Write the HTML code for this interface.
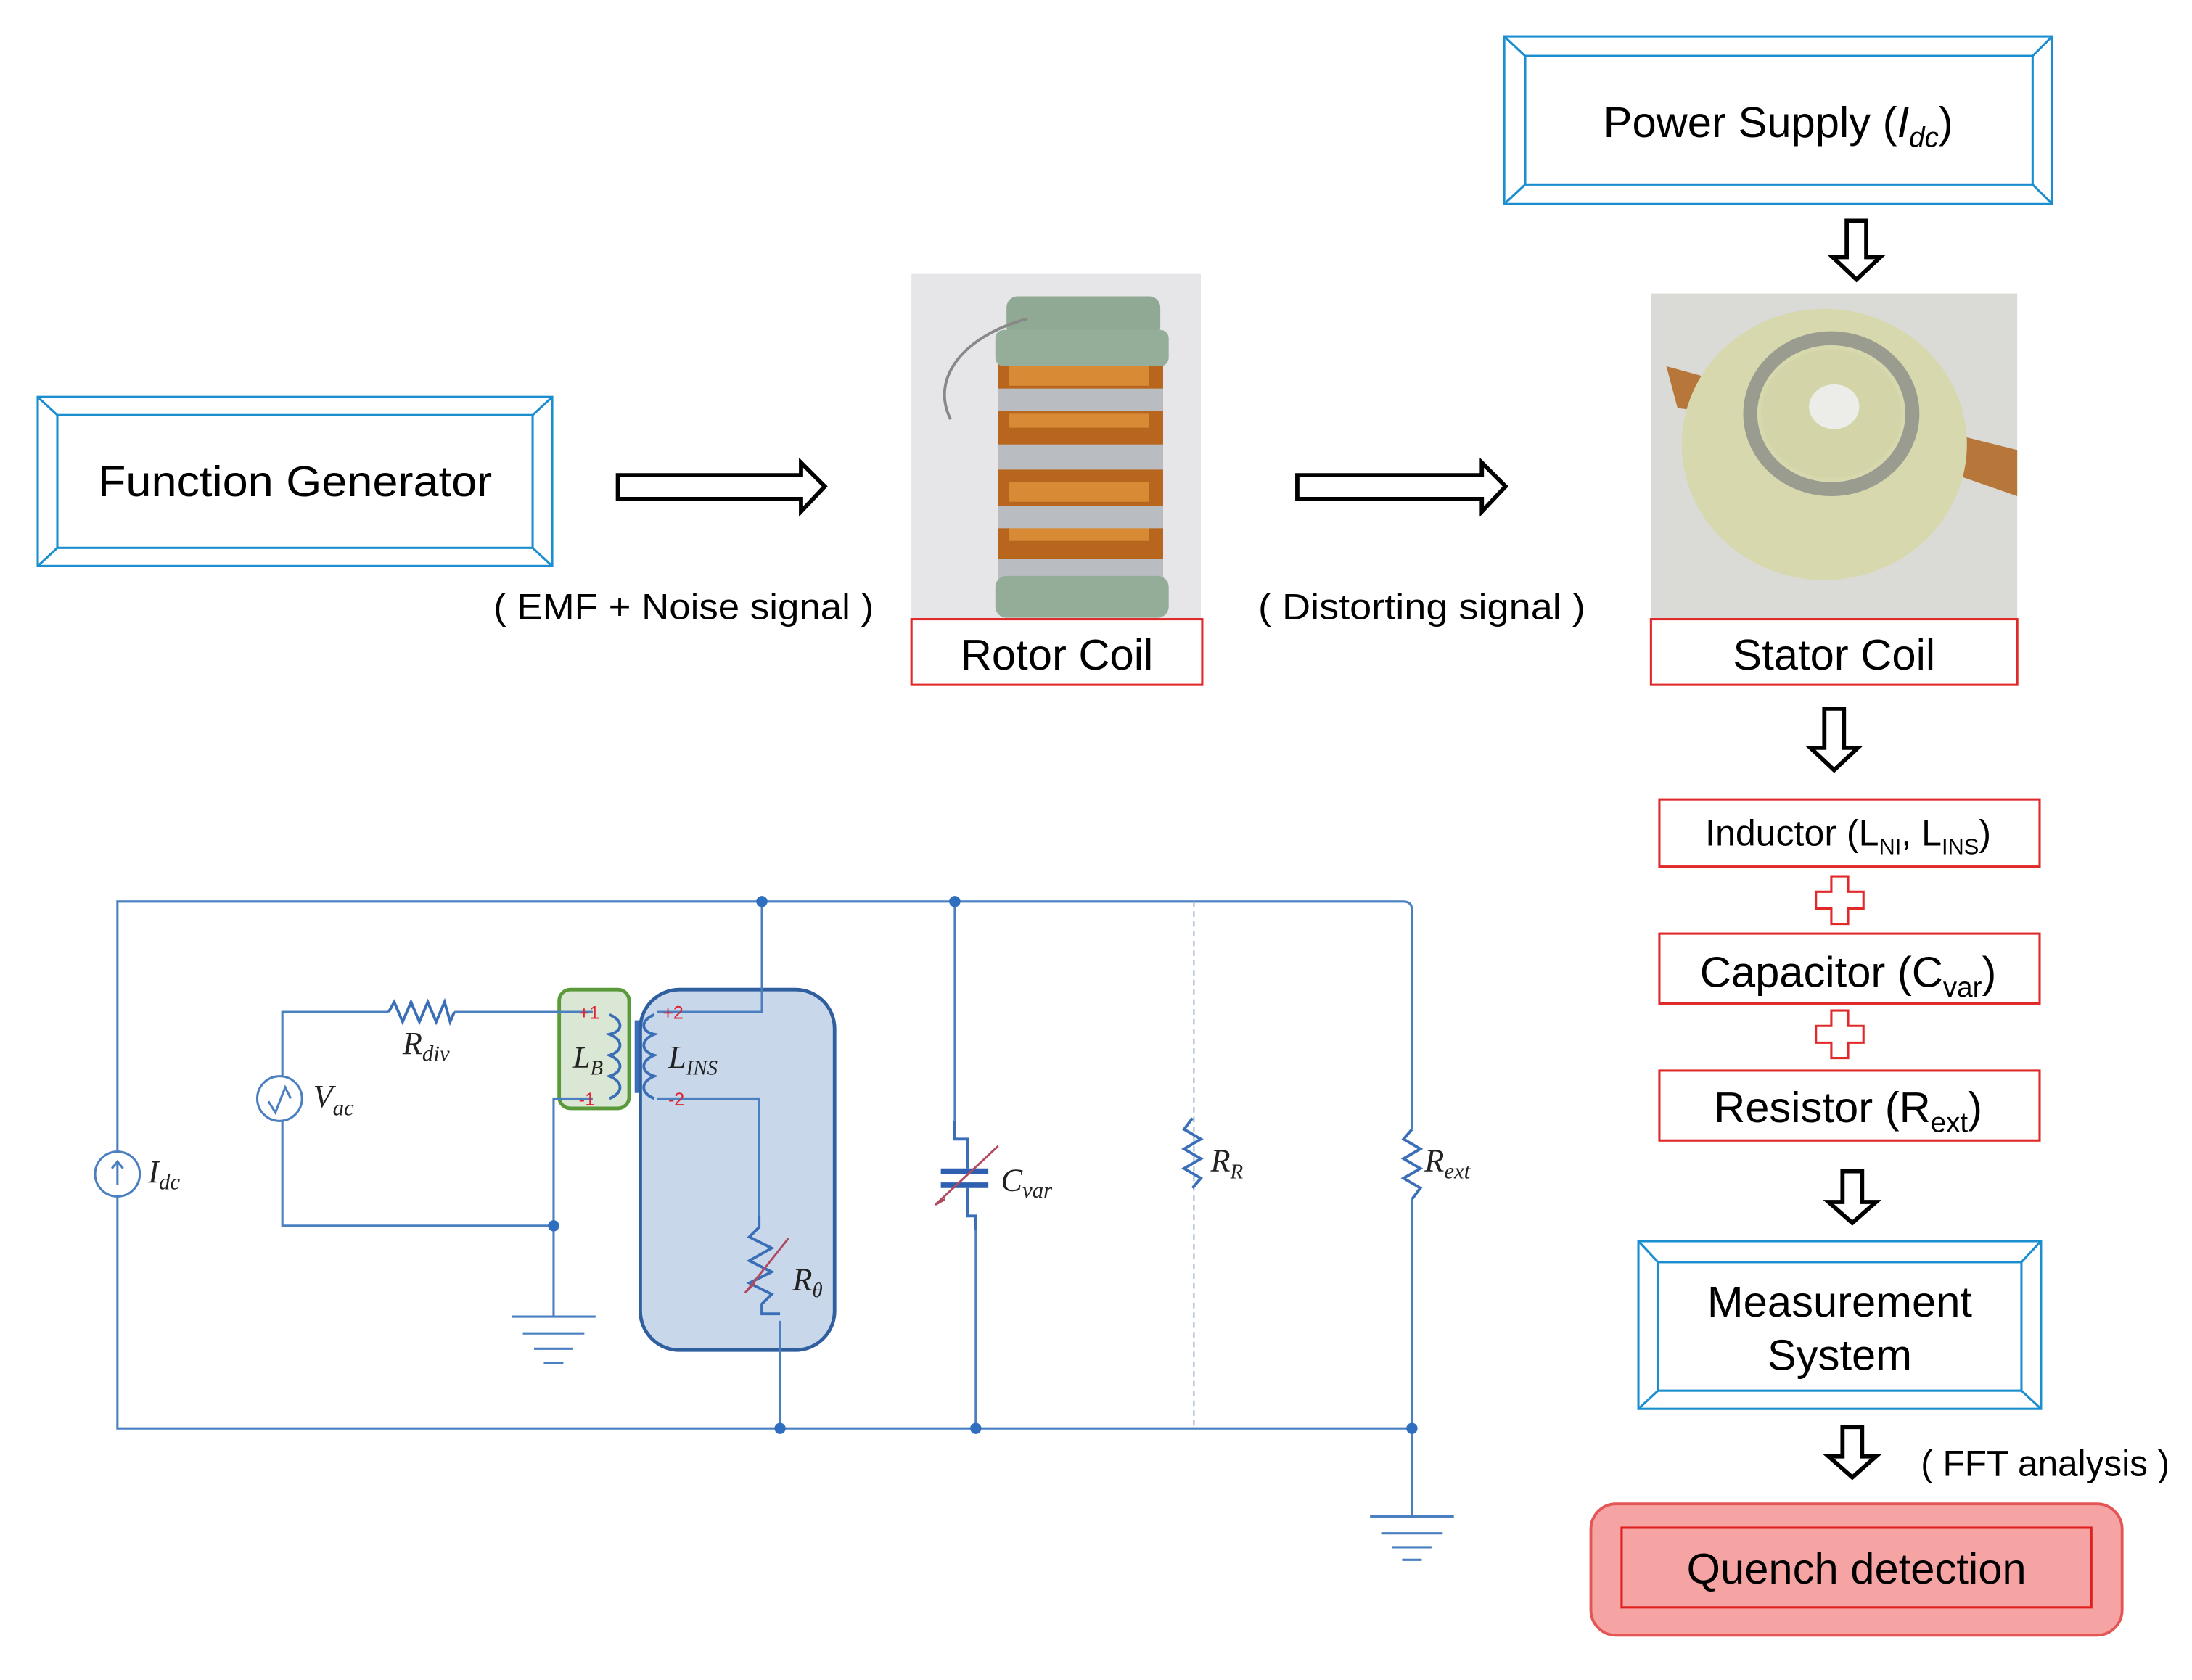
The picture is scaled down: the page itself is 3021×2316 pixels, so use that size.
<!DOCTYPE html>
<html><head><meta charset="utf-8">
<style>
html,body{margin:0;padding:0;background:#fff;}
svg{display:block;}
text{font-family:"Liberation Sans","Noto Sans CJK KR",sans-serif;fill:#000;}
.m{font-family:"Liberation Serif","DejaVu Serif",serif;font-style:italic;fill:#222;}
</style></head>
<body>
<svg width="3021" height="2316" viewBox="0 0 1568 1202" preserveAspectRatio="none" xmlns="http://www.w3.org/2000/svg">
<rect x="0" y="0" width="1568" height="1202" fill="#fff"/>

<!-- double boxes -->
<g fill="none" stroke="#1b8ed0" stroke-width="1.6">
  <rect x="27" y="284" width="368" height="121"/>
  <rect x="41" y="297" width="340" height="95"/>
  <path d="M27 284L41 297M395 284L381 297M27 405L41 392M395 405L381 392"/>
  <rect x="1076" y="26" width="392" height="120"/>
  <rect x="1091" y="40" width="363" height="92"/>
  <path d="M1076 26L1091 40M1468 26L1454 40M1076 146L1091 132M1468 146L1454 132"/>
  <rect x="1172" y="888" width="288" height="120"/>
  <rect x="1186" y="903" width="260" height="92"/>
  <path d="M1172 888L1186 903M1460 888L1446 903M1172 1008L1186 995M1460 1008L1446 995"/>
</g>
<text x="211" y="355" font-size="31" text-anchor="middle" textLength="282" lengthAdjust="spacingAndGlyphs">Function Generator</text>
<text x="1272" y="98" font-size="31" text-anchor="middle">Power Supply (<tspan font-style="italic">I</tspan><tspan font-style="italic" font-size="20" dy="7">dc</tspan><tspan dy="-7">)</tspan></text>
<text x="1316" y="942" font-size="31" text-anchor="middle">Measurement</text>
<text x="1316" y="980" font-size="31" text-anchor="middle">System</text>

<!-- arrows -->
<g fill="#fff" stroke="#000" stroke-width="3">
  <path d="M442 340H573V331L590 348L573 366V357H442Z"/>
  <path d="M928 340H1060V331L1077 348L1060 366V357H928Z"/>
  <path d="M1321 158H1335V184H1345L1328 200L1311 184H1321Z"/>
  <path d="M1305 507H1319V535H1329L1312 551L1295 535H1305Z"/>
  <path d="M1318 838H1332V860H1342L1325 875L1308 860H1318Z"/>
  <path d="M1318 1021H1332V1042H1342L1325 1057L1308 1042H1318Z"/>
</g>
<text x="489" y="443" font-size="26" text-anchor="middle" textLength="272" lengthAdjust="spacingAndGlyphs">( EMF + Noise signal )</text>
<text x="1017" y="443" font-size="26" text-anchor="middle" textLength="234" lengthAdjust="spacingAndGlyphs">( Distorting signal )</text>
<text x="1463" y="1056" font-size="26" text-anchor="middle" textLength="178" lengthAdjust="spacingAndGlyphs">( FFT analysis )</text>

<!-- rotor photo -->
<rect x="652" y="196" width="207" height="247" fill="#e6e6e8"/>
<rect x="714" y="258" width="118" height="170" fill="#b8651e"/>
<g fill="#d98a35">
<rect x="722" y="262" width="100" height="14"/><rect x="722" y="296" width="100" height="10"/>
<rect x="722" y="345" width="100" height="14"/><rect x="722" y="375" width="100" height="12"/>
</g>
<g fill="#b9bcc0">
<rect x="714" y="278" width="118" height="16"/><rect x="714" y="318" width="118" height="18"/>
<rect x="714" y="362" width="118" height="16"/><rect x="714" y="400" width="118" height="18"/>
</g>
<rect x="720" y="212" width="110" height="30" rx="8" fill="#8fa995"/>
<rect x="712" y="236" width="124" height="26" rx="6" fill="#94ae9a"/>
<rect x="712" y="412" width="124" height="30" rx="8" fill="#93ad98"/>
<path d="M735 228C690 240 665 270 680 300" fill="none" stroke="#888" stroke-width="2"/>

<!-- stator photo -->
<rect x="1181" y="210" width="262" height="233" fill="#dadad6"/>
<path d="M1192 262L1250 278L1248 298L1200 292Z" fill="#b8773a"/>
<path d="M1395 310L1443 322L1443 355L1400 340Z" fill="#b8773a"/>
<ellipse cx="1305" cy="318" rx="102" ry="97" fill="#d7d8ad"/>
<ellipse cx="1310" cy="296" rx="58" ry="54" fill="none" stroke="#9a9c90" stroke-width="10"/>
<ellipse cx="1310" cy="296" rx="50" ry="46" fill="#d3d4a8"/>
<ellipse cx="1312" cy="291" rx="18" ry="16" fill="#ecece8"/>

<!-- red label boxes -->
<g fill="none" stroke="#e02a2a" stroke-width="1.6">
  <rect x="652" y="443" width="208" height="47"/>
  <rect x="1181" y="443" width="262" height="47"/>
  <rect x="1187" y="572" width="272" height="48"/>
  <rect x="1187" y="668" width="272" height="50"/>
  <rect x="1187" y="766" width="272" height="50"/>
  <path d="M1310 627H1322V638H1333V650H1322V661H1310V650H1299V638H1310Z"/>
  <path d="M1310 723H1322V734H1333V746H1322V757H1310V746H1299V734H1310Z"/>
</g>
<text x="756" y="479" font-size="31" text-anchor="middle">Rotor Coil</text>
<text x="1312" y="479" font-size="31" text-anchor="middle">Stator Coil</text>
<text x="1322" y="605" font-size="26" text-anchor="middle">Inductor (L<tspan font-size="16" dy="6">NI</tspan><tspan dy="-6">, L</tspan><tspan font-size="16" dy="6">INS</tspan><tspan dy="-6">)</tspan></text>
<text x="1322" y="706" font-size="31" text-anchor="middle">Capacitor (C<tspan font-size="20" dy="7">var</tspan><tspan dy="-7">)</tspan></text>
<text x="1322" y="803" font-size="31" text-anchor="middle">Resistor (R<tspan font-size="20" dy="7">ext</tspan><tspan dy="-7">)</tspan></text>

<!-- quench -->
<rect x="1138" y="1076" width="380" height="94" rx="18" fill="#f6a3a3" stroke="#e45555" stroke-width="2"/>
<rect x="1160" y="1093" width="336" height="57" fill="none" stroke="#e02020" stroke-width="1.6"/>
<text x="1328" y="1133" font-size="31" text-anchor="middle">Quench detection</text>

<!-- circuit -->
<rect x="458" y="708" width="139" height="258" rx="28" fill="#c9d7ea" stroke="#2f5f9e" stroke-width="2.5"/>
<rect x="400" y="708" width="50" height="85" rx="8" fill="#dbe7d5" stroke="#5a9a3a" stroke-width="2.5"/>
<g fill="none" stroke="#4a7fc0" stroke-width="1.6">
  <path d="M84 824V645H1004Q1010 645 1010 651V808M1010 858V1085"/>
  <path d="M84 856V1022H1010"/>
  <path d="M545 645V724H470"/>
  <path d="M470 786H543V870"/>
  <path d="M558 945V1022"/>
  <path d="M683 645V802"/>
  <path d="M698 880V1022"/>
  <path d="M202 770V724H278M325 724H424"/>
  <path d="M202 802V877H396"/>
  <path d="M424 786H396V942"/>
  <path d="M366 942H426M374 954H418M382 965H410M389 975H403"/>
  <path d="M980 1085H1040M988 1097H1032M996 1107H1024M1003 1116H1017"/>
  <circle cx="84" cy="840" r="16"/>
  <circle cx="200" cy="786" r="16"/>
  <path d="M84 848V832M80 836L84 831L88 836"/>
  <path d="M192 788L197 796L204 778L208 786"/>
</g>
<path d="M854 645V1022" stroke="#a9bfd9" stroke-width="1.2" stroke-dasharray="4 3"/>
<g fill="none" stroke="#3a6fb8" stroke-width="2">
  <path d="M278 724L282 717L288 731L294 717L300 731L306 717L312 731L318 717L322 731L325 724"/>
  <path d="M436 726C446 730 446 738 436 740C446 744 446 752 436 755C446 759 446 767 436 770C446 774 446 782 436 786"/>
  <path d="M468 726C458 730 458 738 468 740C458 744 458 752 468 755C458 759 458 767 468 770C458 774 458 782 468 786"/>
  <path d="M543 870V878L536 885L552 893L536 902L552 910L536 918L552 926L545 933V940H558"/>
  <path d="M683 802V815H692V836M692 850V870H698V880"/>
  <path d="M853 800L847 808L859 815L847 822L859 829L847 836L859 843L853 850"/>
  <path d="M1010 808L1004 815L1016 822L1004 829L1016 836L1004 843L1016 850L1010 858"/>
</g>
<rect x="454" y="730" width="3" height="52" fill="#3a6fb8"/>
<g stroke="#2f5fb0" stroke-width="4"><path d="M673 838H707M673 848H707"/></g>
<g stroke="#b04a60" stroke-width="1.5" fill="none">
  <path d="M533 925L564 886M669 862L714 820M533 925L540 918M669 862L676 858"/>
</g>
<g fill="#2f6fc0">
  <circle cx="545" cy="645" r="4"/><circle cx="683" cy="645" r="4"/>
  <circle cx="558" cy="1022" r="4"/><circle cx="698" cy="1022" r="4"/>
  <circle cx="1010" cy="1022" r="4"/><circle cx="396" cy="877" r="4"/>
</g>
<g font-size="13">
  <text x="414" y="729" style="fill:#e02030">+1</text>
  <text x="414" y="791" style="fill:#e02030">-1</text>
  <text x="474" y="729" style="fill:#e02030">+2</text>
  <text x="478" y="791" style="fill:#e02030">-2</text>
</g>
<text class="m" x="106" y="846" font-size="23">I<tspan font-size="16" dy="5">dc</tspan></text>
<text class="m" x="224" y="792" font-size="23">V<tspan font-size="16" dy="6">ac</tspan></text>
<text class="m" x="288" y="754" font-size="23">R<tspan font-size="16" dy="5">div</tspan></text>
<text class="m" x="410" y="764" font-size="22">L<tspan font-size="15" dy="5">B</tspan></text>
<text class="m" x="478" y="764" font-size="23">L<tspan font-size="15" dy="5">INS</tspan></text>
<text class="m" x="567" y="923" font-size="23">R<tspan font-size="15" dy="5">θ</tspan></text>
<text class="m" x="716" y="852" font-size="23">C<tspan font-size="16" dy="5">var</tspan></text>
<text class="m" x="866" y="838" font-size="23">R<tspan font-size="15" dy="5">R</tspan></text>
<text class="m" x="1019" y="838" font-size="23">R<tspan font-size="16" dy="5">ext</tspan></text>
</svg>
</body></html>
